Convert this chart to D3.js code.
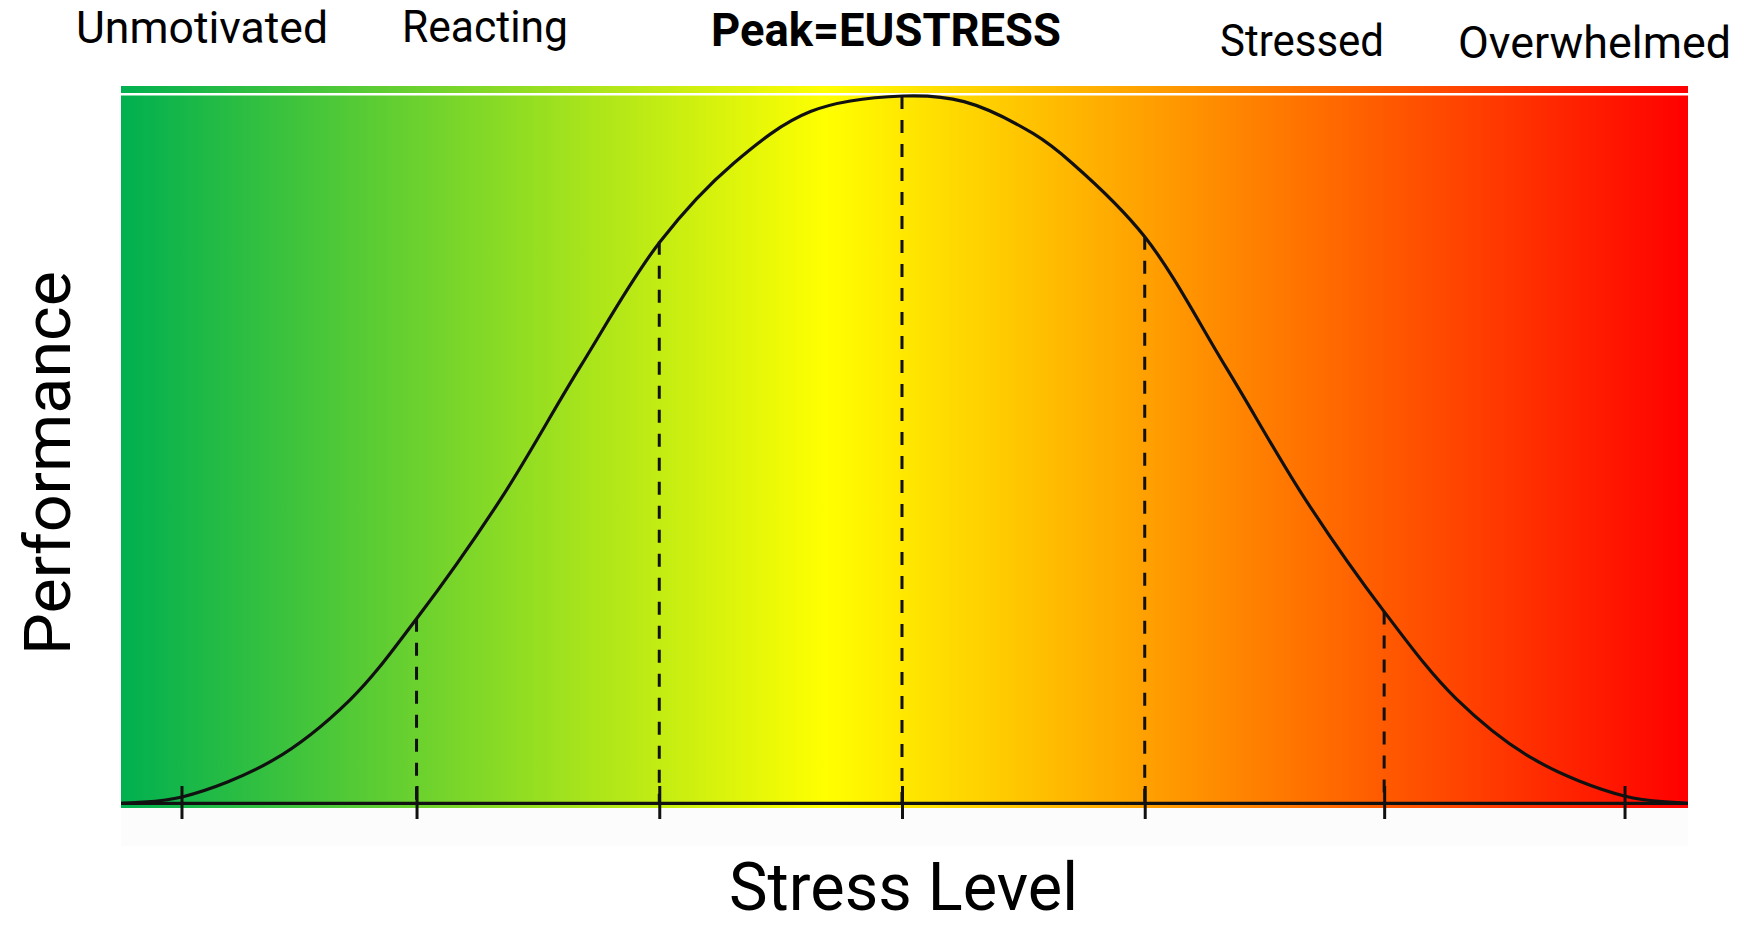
<!DOCTYPE html>
<html>
<head>
<meta charset="utf-8">
<script src="https://cdn.jsdelivr.net/npm/d3@7"></script>
<style>
  body { margin: 0; background: #fff; }
  svg { display: block; font-family: Roboto, "Noto Sans", sans-serif; }
</style>
</head>
<body>
<svg id="chart" width="1746" height="926"></svg>
<script>
// --- Data (stress level 0-100, performance 0-100) ---
const stressValues = [0, 3.9, 9.7, 14.6, 18.86, 24.2, 29.3, 34.4, 39.1, 44.0, 49.9,
    53.8, 58.2, 60.7, 65.33, 70.5, 75.6, 80.61, 85.2, 90.1, 96.0, 100];
const performanceValues = [0, 0.9, 6.1, 14.6, 26.1, 42.9, 61.7, 79.4, 90.5, 97.8, 100,
    99.2, 94.7, 90.5, 80.1, 61.7, 42.9, 27.1, 14.8, 6.3, 1.0, 0];

const tickValues = [3.86, 18.86, 34.35, 49.84, 65.33, 80.61, 95.95];
const dropStress = [18.86, 34.35, 49.84, 65.33, 80.61];
const dropPerformance = [26.1, 79.4, 100, 80.1, 27.1];

const zoneLabels = ["Unmotivated", "Reacting", "Peak=EUSTRESS", "Stressed", "Overwhelmed"];
const xTitle = "Stress Level";
const yTitle = "Performance";

const gradientStops = [0, 45, 100];
const gradientColors = ["#00b050", "#ffff00", "#ff0000"];

// --- Layout ---
const plot = { left: 121, right: 1688, top: 96, base: 803.3 };
const labelLayout = [
    { x: 76, y: 43.4, w: 252, bold: false },
    { x: 402, y: 42.3, w: 166, bold: false },
    { x: 711, y: 45.7, w: 350, bold: true },
    { x: 1220, y: 55.7, w: 164, bold: false },
    { x: 1458, y: 57.9, w: 273, bold: false }
];

const svg = d3.select("#chart");
const x = d3.scaleLinear().domain([0, 100]).range([plot.left, plot.right]);
const y = d3.scaleLinear().domain([0, 100]).range([plot.base, plot.top]);

// gradient
const defs = svg.append("defs");
const grad = defs.append("linearGradient").attr("id", "stressGrad")
    .attr("x1", "0%").attr("x2", "100%").attr("y1", "0%").attr("y2", "0%");
gradientStops.forEach((s, i) => {
    grad.append("stop").attr("offset", s + "%").attr("stop-color", gradientColors[i]);
});

// faint band under the plot
svg.append("rect").attr("x", x(0)).attr("y", 808).attr("width", x(100) - x(0)).attr("height", 38)
    .attr("fill", "#fcfcfc");

// top strip
svg.append("rect").attr("x", x(0)).attr("y", 86).attr("width", x(100) - x(0)).attr("height", 7)
    .attr("fill", "url(#stressGrad)");
// main background
svg.append("rect").attr("x", x(0)).attr("y", y(100) - 0.5).attr("width", x(100) - x(0)).attr("height", 808 - y(100) + 0.5)
    .attr("fill", "url(#stressGrad)");

// drop lines
svg.selectAll(".drop")
    .data(dropStress.map((s, i) => ({ s, p: dropPerformance[i] })))
    .enter().append("line")
    .attr("class", "drop")
    .attr("x1", d => x(d.s)).attr("x2", d => x(d.s))
    .attr("y1", d => y(d.p)).attr("y2", y(0))
    .attr("stroke", "#111").attr("stroke-width", 3)
    .attr("stroke-dasharray", "13,11");

// baseline
svg.append("line").attr("x1", x(0)).attr("x2", x(100)).attr("y1", y(0)).attr("y2", y(0))
    .attr("stroke", "#111").attr("stroke-width", 3.2);

// ticks crossing the baseline
const axis = d3.axisBottom(x).tickValues(tickValues).tickSizeInner(33).tickSizeOuter(0).tickFormat("");
const axisG = svg.append("g").attr("transform", `translate(0,${y(0) - 17.3})`).call(axis);
axisG.select(".domain").remove();
axisG.selectAll(".tick line").attr("stroke", "#111").attr("stroke-width", 3);

// curve
const line = d3.line()
    .x((d, i) => x(stressValues[i]))
    .y(d => y(d))
    .curve(d3.curveCatmullRom.alpha(0.5));
svg.append("path").datum(performanceValues)
    .attr("d", line)
    .attr("fill", "none")
    .attr("stroke", "#111")
    .attr("stroke-width", 3.2);

// zone labels
svg.selectAll(".zone")
    .data(zoneLabels)
    .enter().append("text")
    .attr("class", "zone")
    .attr("x", (d, i) => labelLayout[i].x)
    .attr("y", (d, i) => labelLayout[i].y)
    .attr("textLength", (d, i) => labelLayout[i].w)
    .attr("lengthAdjust", "spacingAndGlyphs")
    .attr("font-size", (d, i) => labelLayout[i].bold ? 46 : 45)
    .attr("font-weight", (d, i) => labelLayout[i].bold ? "bold" : "normal")
    .attr("fill", "#000")
    .text(d => d);

// axis titles
svg.append("text")
    .attr("x", 729).attr("y", 909.5)
    .attr("textLength", 349).attr("lengthAdjust", "spacingAndGlyphs")
    .attr("font-size", 66).attr("fill", "#000")
    .text(xTitle);

svg.append("text")
    .attr("transform", "translate(70,655) rotate(-90)")
    .attr("textLength", 384).attr("lengthAdjust", "spacingAndGlyphs")
    .attr("font-size", 64).attr("fill", "#000")
    .text(yTitle);
</script>
</body>
</html>
